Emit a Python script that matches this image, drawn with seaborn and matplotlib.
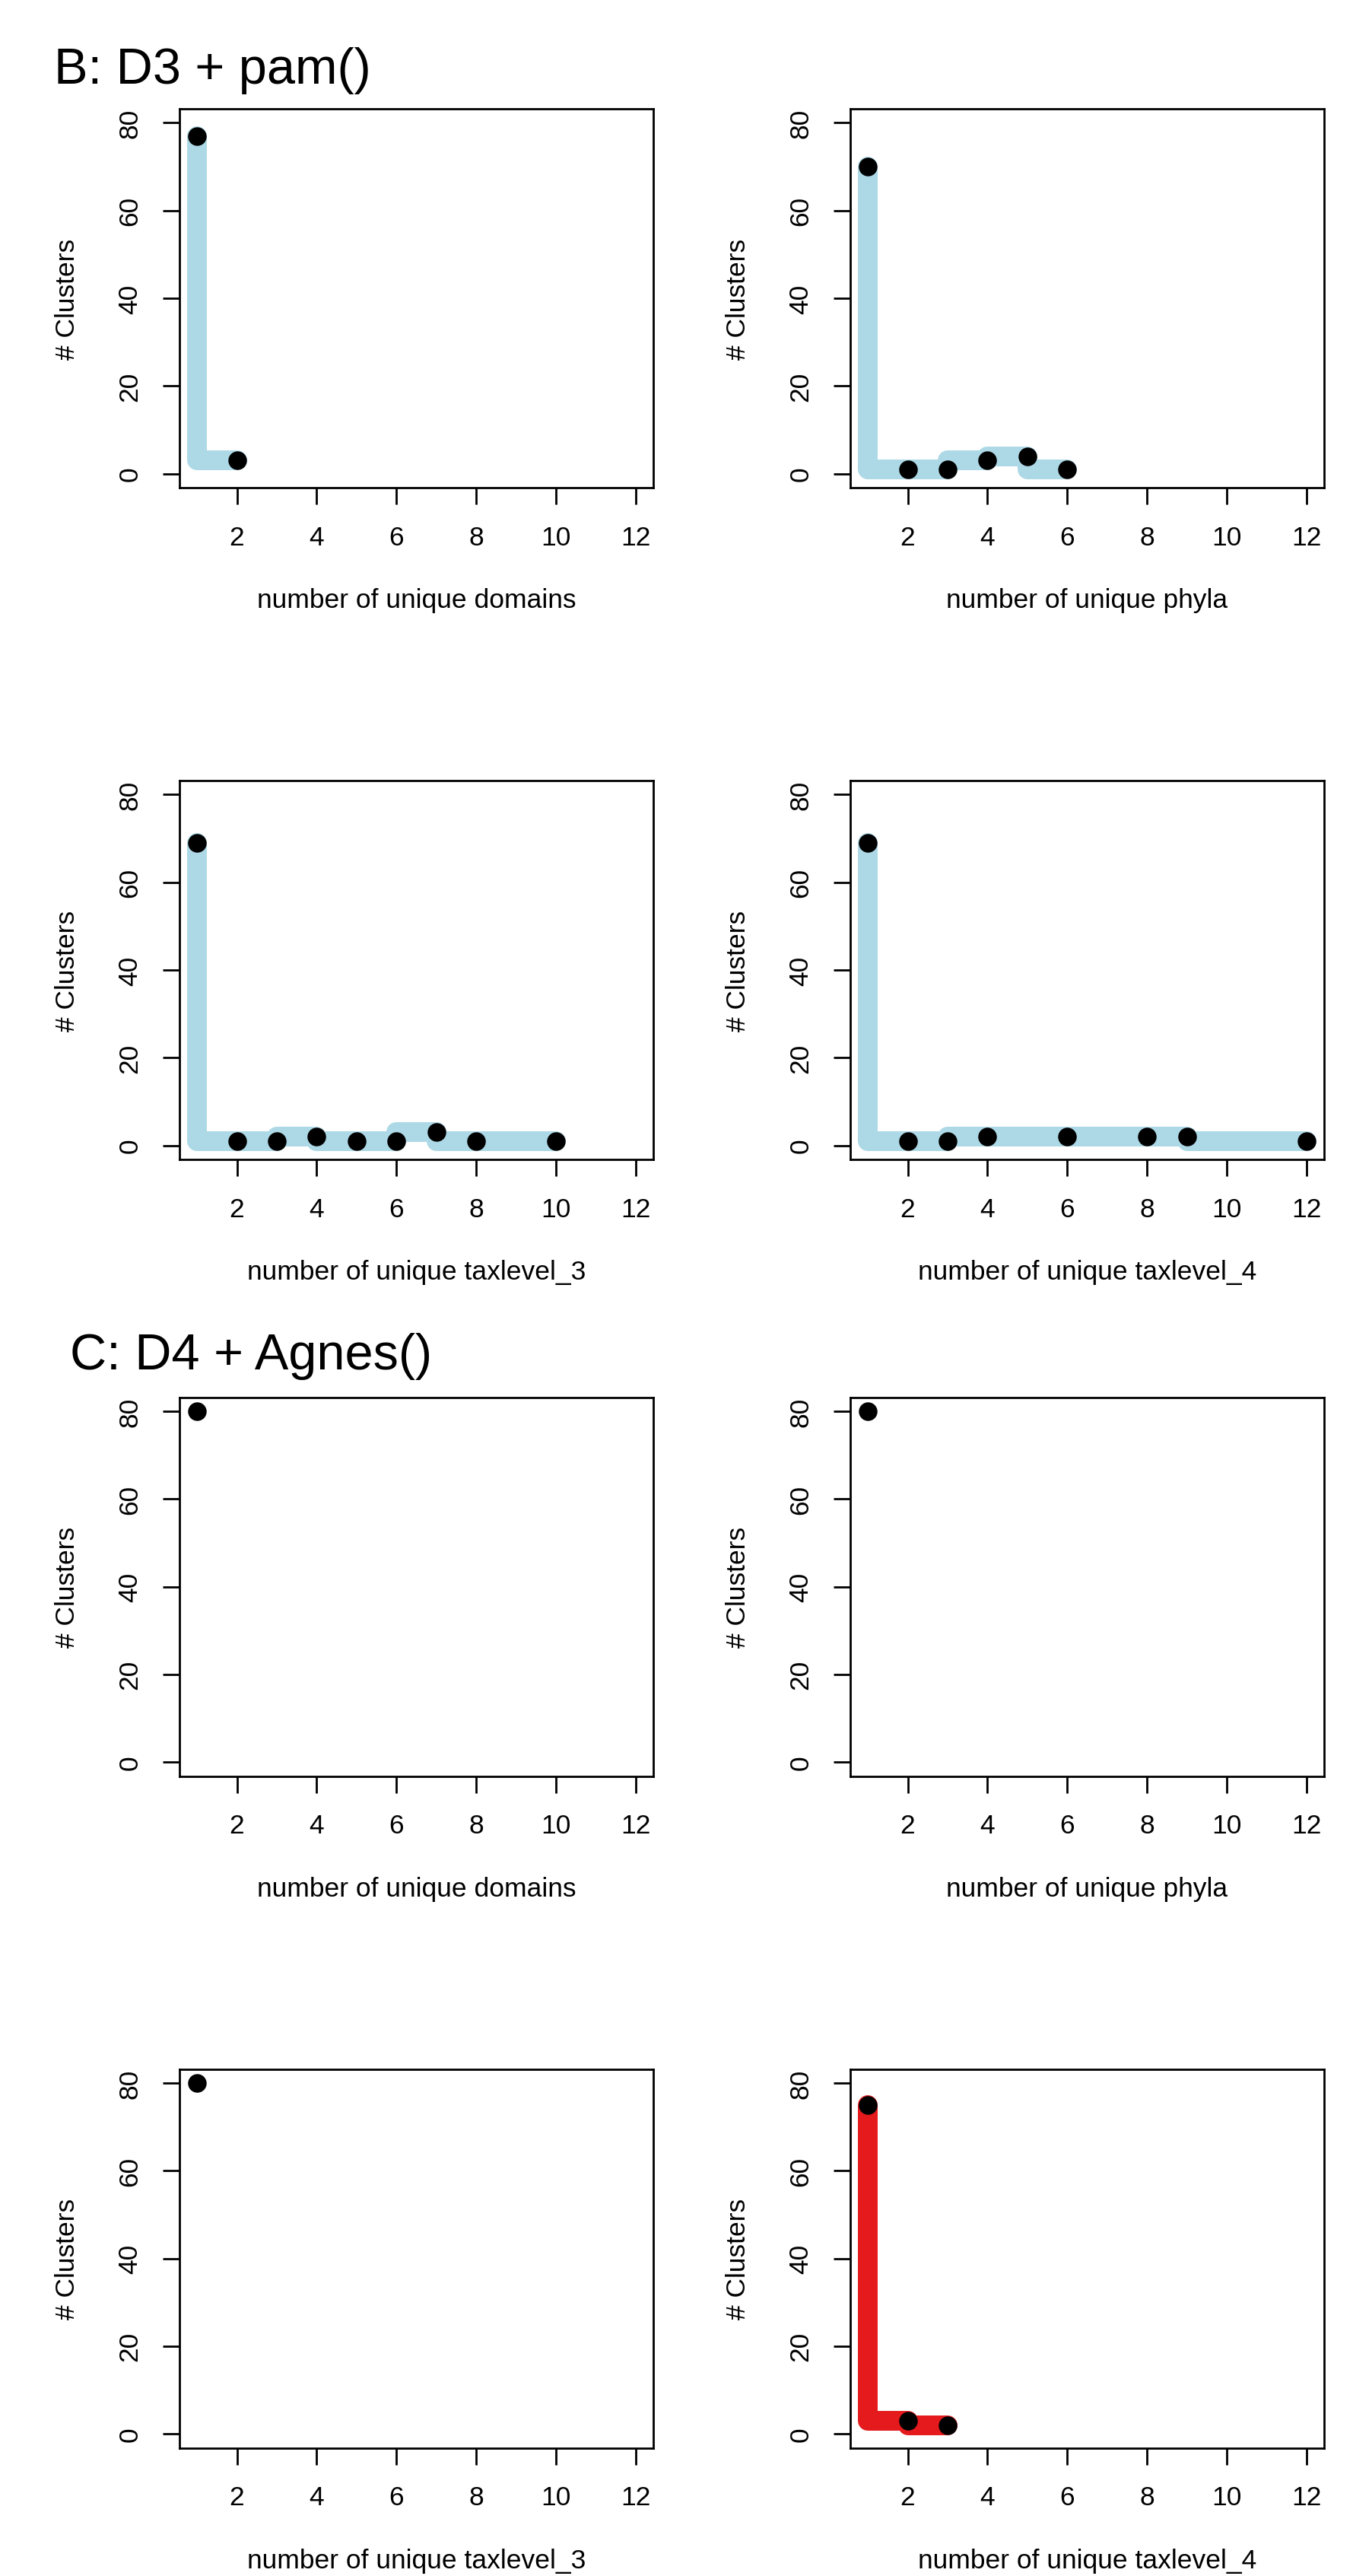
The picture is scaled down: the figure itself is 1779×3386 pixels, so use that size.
import matplotlib
matplotlib.use("Agg")
import matplotlib.pyplot as plt
import seaborn as sns

# values (x = number of unique taxa, y = # clusters)
b_domains_x = [1, 2]
b_domains_y = [77, 3]
b_phyla_x = [1, 2, 3, 4, 5, 6]
b_phyla_y = [70, 1, 1, 3, 4, 1]
b_tax3_x = [1, 2, 3, 4, 5, 6, 7, 8, 10]
b_tax3_y = [69, 1, 1, 2, 1, 1, 3, 1, 1]
b_tax4_x = [1, 2, 3, 4, 6, 8, 9, 12]
b_tax4_y = [69, 1, 1, 2, 2, 2, 2, 1]

c_domains_x = [1]
c_domains_y = [80]
c_phyla_x = [1]
c_phyla_y = [80]
c_tax3_x = [1]
c_tax3_y = [80]
c_tax4_x = [1, 2, 3]
c_tax4_y = [75, 3, 2]

x_labels = ["number of unique domains", "number of unique phyla",
            "number of unique taxlevel_3", "number of unique taxlevel_4"]
x_ticks = [2, 4, 6, 8, 10, 12]
y_ticks = [0, 20, 40, 60, 80]
titles = ["B: D3 + pam()", "C: D4 + Agnes()"]

sns.set_style("white")
plt.rcParams['font.family'] = ['Liberation Sans', 'DejaVu Sans']
plt.rcParams['text.color'] = 'black'
plt.rcParams['axes.labelcolor'] = 'black'
plt.rcParams['xtick.color'] = 'black'
plt.rcParams['ytick.color'] = 'black'

W, H = 1779, 3387
fig = plt.figure(figsize=(W / 100, H / 100), dpi=100)

panels = [
    (b_domains_x, b_domains_y, "lightblue", x_labels[0]),
    (b_phyla_x, b_phyla_y, "lightblue", x_labels[1]),
    (b_tax3_x, b_tax3_y, "lightblue", x_labels[2]),
    (b_tax4_x, b_tax4_y, "lightblue", x_labels[3]),
    (c_domains_x, c_domains_y, "#E41A1C", x_labels[0]),
    (c_phyla_x, c_phyla_y, "#E41A1C", x_labels[1]),
    (c_tax3_x, c_tax3_y, "#E41A1C", x_labels[2]),
    (c_tax4_x, c_tax4_y, "#E41A1C", x_labels[3]),
]

# pixel layout of the R panels
col_left = [236, 1118]
row_top = [144, 1027, 1837.5, 2720.5]
pw, ph = 623, 498

for i, (xs, ys, col, xlab) in enumerate(panels):
    r, c = divmod(i, 2)
    ax = fig.add_axes([col_left[c] / W, 1 - (row_top[r] + ph) / H, pw / W, ph / H])
    if len(xs) > 1:
        sns.lineplot(x=xs, y=ys, ax=ax, color=col, linewidth=18.7,
                     drawstyle='steps-pre', solid_capstyle='round',
                     solid_joinstyle='round', errorbar=None, zorder=2)
    sns.scatterplot(x=xs, y=ys, ax=ax, color='black', s=310, linewidth=0, zorder=3)

    ax.set_xlim(0.56, 12.44)
    ax.set_ylim(-3.2, 83.2)
    ax.set_xticks(x_ticks)
    ax.set_yticks(y_ticks)
    ax.tick_params(direction='out', length=16, width=2, labelsize=25.5, pad=19,
                   bottom=True, left=True, color='black', labelcolor='black')
    for lab in ax.get_yticklabels():
        lab.set_rotation(90)
        lab.set_va('center')
    for s in ax.spines.values():
        s.set_visible(True)
        s.set_color('black')
        s.set_linewidth(2)
    ax.set_xlabel(xlab, fontsize=25.5, va='center', color='black')
    ax.xaxis.set_label_coords(0.5, -(790 - 642) / ph)
    ax.set_ylabel("# Clusters", fontsize=25.5, va='center', color='black')
    ax.yaxis.set_label_coords(-(236 - 88) / pw, 0.5)

fig.text(71 / W, 1 - 110 / H, titles[0], fontsize=48, ha='left', va='baseline', color='black')
fig.text(92 / W, 1 - 1800 / H, titles[1], fontsize=48, ha='left', va='baseline', color='black')

fig.savefig("out.png", dpi=100, facecolor='white')
